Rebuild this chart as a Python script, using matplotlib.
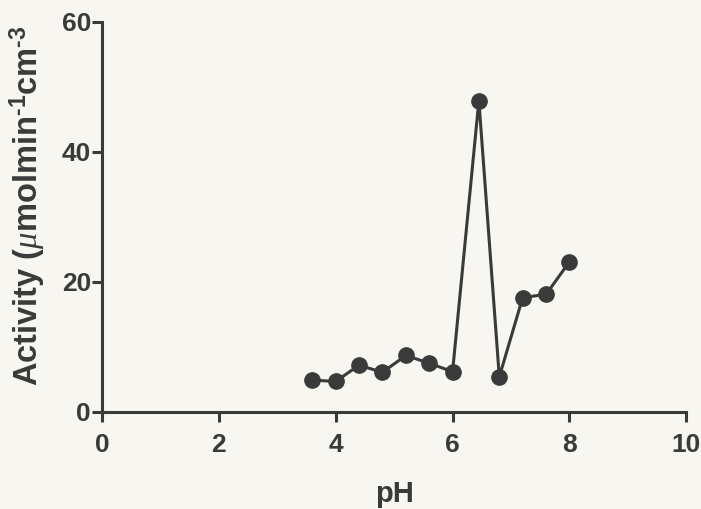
import matplotlib
matplotlib.use("Agg")
import matplotlib.pyplot as plt

ph = [3.6, 4.0, 4.4, 4.8, 5.2, 5.6, 6.0, 6.45, 6.8, 7.2, 7.6, 8.0]
activity = [4.9, 4.7, 7.2, 6.1, 8.7, 7.5, 6.2, 47.9, 5.4, 17.6, 18.1, 23.1]
xticks = [0, 2, 4, 6, 8, 10]
yticks = [0, 20, 40, 60]

plt.rcParams['font.family'] = ['Liberation Sans', 'DejaVu Sans']
plt.rcParams['mathtext.fontset'] = 'custom'
plt.rcParams['mathtext.rm'] = 'Liberation Sans:bold'
plt.rcParams['mathtext.bf'] = 'Liberation Sans:bold'
plt.rcParams['mathtext.it'] = 'Liberation Serif:italic'
col = '#3a3a3a'

fig = plt.figure(figsize=(7.01, 5.09), dpi=100, facecolor='#f7f6f1')
ax = fig.add_axes([0.1455, 0.1906, 0.8335, 0.7662])
ax.set_facecolor('#f7f6f1')
ax.plot(ph, activity, '-o', color=col, lw=2.2, ms=11, mfc=col, mec=col, clip_on=False)
ax.set_xlim(0, 10)
ax.set_ylim(0, 60)
ax.set_xticks(xticks)
ax.set_yticks(yticks)
for s in ['top', 'right']:
    ax.spines[s].set_visible(False)
for s in ['left', 'bottom']:
    ax.spines[s].set_color(col)
    ax.spines[s].set_linewidth(2.2)
ax.tick_params(axis='both', direction='out', length=7, width=2.2, color=col,
               labelsize=19, labelcolor=col)
ax.tick_params(axis='x', pad=8)
ax.tick_params(axis='y', pad=1)
for lab in ax.get_xticklabels() + ax.get_yticklabels():
    lab.set_fontweight('bold')
ax.set_xlabel('pH', fontsize=21, fontweight='bold', color=col, labelpad=17)
ax.set_ylabel(r'Activity ($\mathit{\mu}$molmin$^{\mathbf{\text{-}1}}$cm$^{\mathbf{\text{-}3}}$',
              fontsize=23.5, fontweight='bold', color=col)
ax.yaxis.set_label_coords(-0.093, 0.53)
fig.savefig('out.png', dpi=100, facecolor=fig.get_facecolor())
